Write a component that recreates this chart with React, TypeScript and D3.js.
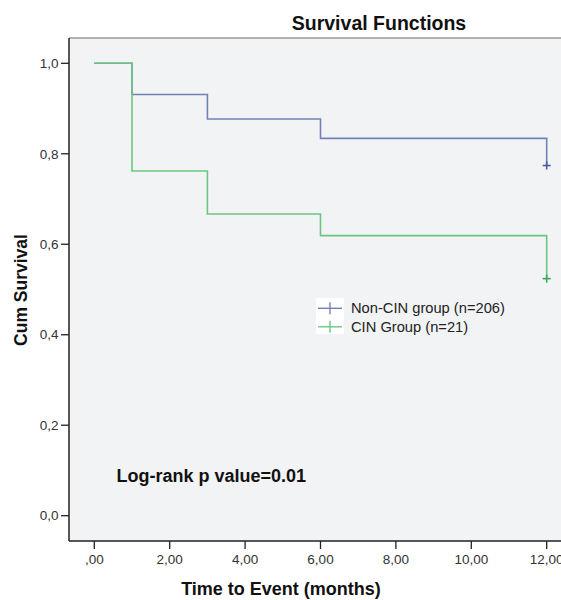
import React from "react";
import * as d3 from "d3";

const groups = ["Non-CIN group (n=206)", "CIN Group (n=21)"];
const colors = ["#7282B8", "#6CC683"];
const censorColors = ["#4B5D9F", "#3DAA5A"];
const eventTimes = [0, 1, 3, 6, 12];
const nonCinSurvival = [1.0, 0.931, 0.877, 0.834, 0.774];
const cinSurvival = [1.0, 0.762, 0.667, 0.619, 0.524];
const xTicks = [0, 2, 4, 6, 8, 10, 12];
const xTickLabels = [",00", "2,00", "4,00", "6,00", "8,00", "10,00", "12,00"];
const yTicks = [0, 0.2, 0.4, 0.6, 0.8, 1.0];
const yTickLabels = ["0,0", "0,2", "0,4", "0,6", "0,8", "1,0"];

const W = 561;
const H = 600;
const plotLeft = 69;
const plotTop = 38;
const plotBottom = 541;
const plotRight = 575;
const FONT = "'Liberation Sans', Arial, sans-serif";

export default function App() {
  const x = d3.scaleLinear().domain([0, 12]).range([94.3, 546.7]);
  const y = d3.scaleLinear().domain([0, 1]).range([515.7, 63.3]);

  const series = [nonCinSurvival, cinSurvival];
  const line = d3
    .line<[number, number]>()
    .x((d) => x(d[0]))
    .y((d) => y(d[1]))
    .curve(d3.curveStepAfter);

  const paths = series.map((vals) => {
    const pts: [number, number][] = eventTimes.map((t, i) => [t, vals[i]]);
    return line(pts) as string;
  });

  return (
    <svg
      width={W}
      height={H}
      style={{ position: "absolute", left: 0, top: 0, background: "#fff" }}
    >
      <rect
        x={plotLeft}
        y={plotTop}
        width={plotRight - plotLeft}
        height={plotBottom - plotTop}
        fill="#F2F3F5"
      />
      <line x1={plotLeft} x2={plotRight} y1={plotTop} y2={plotTop} stroke="#9a9a9a" strokeWidth={1.5} />
      <text
        x={379}
        y={30}
        textAnchor="middle"
        fontFamily={FONT}
        fontWeight="bold"
        fontSize={19.5}
        fill="#111"
      >
        Survival Functions
      </text>

      {/* curves: blue first, green on top */}
      {paths.map((p, i) => (
        <path key={i} d={p} fill="none" stroke={colors[i]} strokeWidth={1.6} />
      ))}
      {/* censor marks */}
      {series.map((vals, i) => {
        const cx = x(eventTimes[eventTimes.length - 1]);
        const cy = y(vals[vals.length - 1]);
        return (
          <g key={"c" + i} stroke={censorColors[i]} strokeWidth={1.6}>
            <line x1={cx - 4} x2={cx + 4} y1={cy} y2={cy} />
            <line x1={cx} x2={cx} y1={cy - 4} y2={cy + 4} />
          </g>
        );
      })}

      {/* axes */}
      <line x1={plotLeft} x2={plotLeft} y1={plotTop} y2={plotBottom} stroke="#222" strokeWidth={1.5} />
      <line x1={plotLeft} x2={plotRight} y1={plotBottom} y2={plotBottom} stroke="#222" strokeWidth={1.5} />
      {yTicks.map((t, i) => (
        <g key={"y" + i}>
          <line x1={plotLeft - 8} x2={plotLeft} y1={y(t)} y2={y(t)} stroke="#222" strokeWidth={1.3} />
          <text
            x={plotLeft - 10.5}
            y={y(t)}
            dy="0.35em"
            textAnchor="end"
            fontFamily={FONT}
            fontSize={13.5}
            fill="#333"
          >
            {yTickLabels[i]}
          </text>
        </g>
      ))}
      {xTicks.map((t, i) => (
        <g key={"x" + i}>
          <line x1={x(t)} x2={x(t)} y1={plotBottom} y2={plotBottom + 8} stroke="#222" strokeWidth={1.3} />
          <text
            x={x(t)}
            y={564}
            textAnchor="middle"
            fontFamily={FONT}
            fontSize={13.5}
            fill="#333"
          >
            {xTickLabels[i]}
          </text>
        </g>
      ))}

      <text
        x={281}
        y={595}
        textAnchor="middle"
        fontFamily={FONT}
        fontWeight="bold"
        fontSize={18}
        fill="#111"
      >
        Time to Event (months)
      </text>
      <text
        transform={`translate(27,290) rotate(-90)`}
        textAnchor="middle"
        fontFamily={FONT}
        fontWeight="bold"
        fontSize={17.5}
        fill="#111"
      >
        Cum Survival
      </text>

      {/* legend */}
      <rect x={316} y={298} width={28} height={36} fill="#ffffff" />
      {groups.map((g, i) => {
        const cy = 308.3 + i * 18.5;
        return (
          <g key={"l" + i}>
            <line x1={318} x2={342} y1={cy} y2={cy} stroke={colors[i]} strokeWidth={1.4} />
            <line x1={330} x2={330} y1={cy - 6} y2={cy + 6} stroke={colors[i]} strokeWidth={1.4} />
            <text x={351} y={cy} dy="0.35em" fontFamily={FONT} fontSize={14.7} fill="#222">
              {g}
            </text>
          </g>
        );
      })}

      <text
        x={116.5}
        y={475.7}
        dy="0.35em"
        fontFamily={FONT}
        fontWeight="bold"
        fontSize={18}
        fill="#111"
      >
        Log-rank p value=0.01
      </text>
    </svg>
  );
}
